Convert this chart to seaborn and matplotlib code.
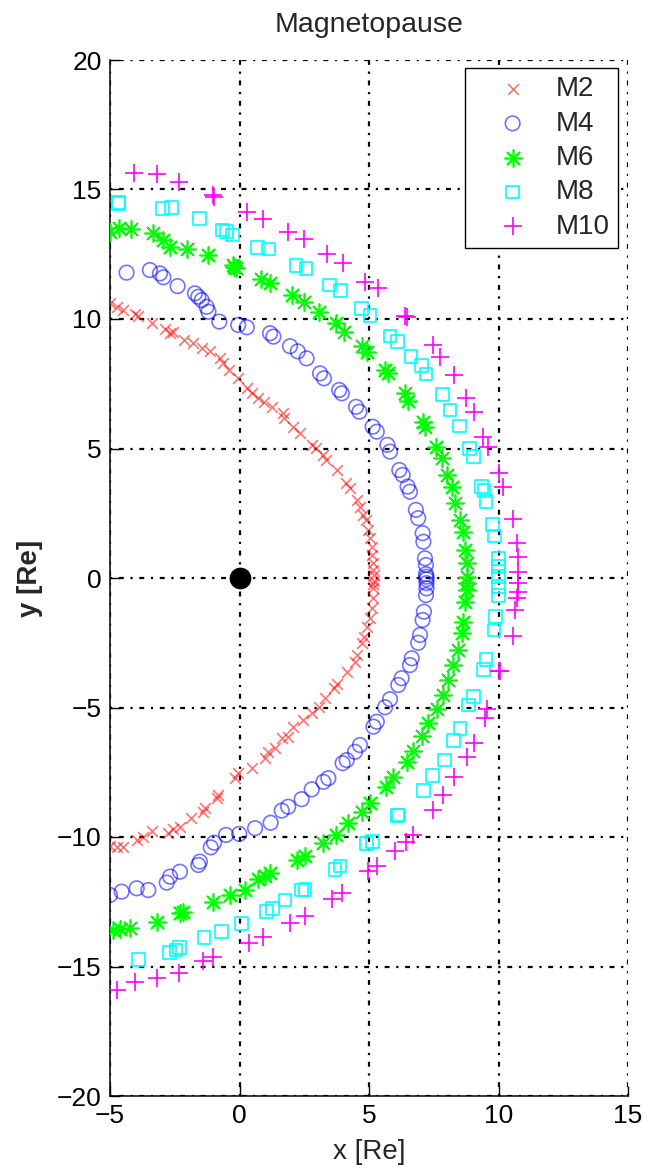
import matplotlib
matplotlib.use("Agg")
import matplotlib.pyplot as plt
import pandas as pd
import seaborn as sns

# Magnetopause boundary crossings (x, y) in Earth radii for each model run
M2 = [(-5.00, 10.61), (-4.74, 10.47), (-4.49, 10.35), (-4.03, 10.19), (-3.91, 10.12),
      (-3.39, 9.86), (-2.88, 9.60), (-2.68, 9.47), (-2.56, 9.51), (-2.13, 9.19),
      (-1.78, 9.08), (-1.46, 8.87), (-1.14, 8.78), (-0.75, 8.48), (-0.63, 8.29),
      (-0.41, 8.03), (-0.05, 7.71), (0.28, 7.32), (0.47, 7.13), (0.73, 6.94),
      (0.96, 6.81), (1.24, 6.61), (1.67, 6.36), (1.72, 6.17), (2.08, 5.84),
      (2.34, 5.59), (2.79, 5.14), (2.95, 5.01), (3.24, 4.75), (3.34, 4.56),
      (3.78, 4.17), (4.11, 3.66), (4.27, 3.46), (4.53, 3.01), (4.65, 2.75),
      (4.78, 2.43), (4.88, 2.24), (4.97, 1.85), (5.04, 1.53), (5.10, 1.21),
      (5.10, 0.89), (5.17, 0.57), (5.17, 0.30), (5.20, 0.10), (5.20, -0.10),
      (5.17, -0.22), (5.17, -0.40), (5.17, -0.78), (5.10, -1.17), (5.04, -1.56),
      (4.91, -1.88), (4.81, -2.27), (4.72, -2.52), (4.53, -2.97), (4.46, -3.25),
      (4.16, -3.62), (3.78, -4.10), (3.65, -4.26), (3.30, -4.62), (3.08, -4.97),
      (2.79, -5.22), (2.46, -5.48), (2.08, -5.74), (1.88, -6.13), (1.63, -6.19),
      (1.37, -6.58), (1.11, -6.70), (0.98, -6.94), (0.47, -7.35), (-0.05, -7.54),
      (-0.17, -7.73), (-0.82, -8.38), (-0.88, -8.51), (-1.33, -8.89), (-1.40, -9.02),
      (-1.87, -9.28), (-2.30, -9.63), (-2.56, -9.70), (-2.75, -9.83), (-3.39, -9.76),
      (-3.71, -9.99), (-3.97, -10.12), (-4.49, -10.37), (-4.74, -10.40), (-5.00, -10.35)]

M4 = [(-4.36, 11.79), (-3.46, 11.89), (-3.07, 11.76), (-2.94, 11.61), (-2.39, 11.27),
      (-1.72, 10.99), (-1.59, 10.86), (-1.46, 10.73), (-1.27, 10.47), (-1.20, 10.28),
      (-0.78, 9.90), (-0.05, 9.77), (0.28, 9.68), (1.18, 9.45), (1.31, 9.32),
      (1.95, 8.95), (2.25, 8.75), (2.59, 8.48), (3.11, 7.90), (3.26, 7.71),
      (3.85, 7.26), (3.95, 7.13), (4.50, 6.61), (4.63, 6.42), (5.14, 5.84),
      (5.30, 5.65), (5.71, 5.14), (5.81, 4.88), (6.17, 4.17), (6.30, 3.98),
      (6.49, 3.53), (6.58, 3.33), (6.81, 2.63), (6.90, 2.31), (7.07, 1.73),
      (7.10, 1.40), (7.16, 0.76), (7.20, 0.50), (7.20, 0.15), (7.22, 0.05),
      (7.22, -0.05), (7.22, -0.20), (7.22, -0.40), (7.20, -0.66), (7.12, -1.30),
      (7.07, -1.62), (6.97, -2.20), (6.90, -2.50), (6.65, -3.10), (6.58, -3.36),
      (6.26, -3.87), (6.13, -4.13), (5.81, -4.68), (5.62, -4.99), (5.30, -5.55),
      (5.17, -5.74), (4.65, -6.45), (4.46, -6.71), (4.14, -7.03), (3.98, -7.15),
      (3.43, -7.73), (3.24, -7.87), (2.79, -8.16), (2.40, -8.54), (1.88, -8.83),
      (1.63, -8.98), (1.20, -9.45), (0.60, -9.66), (-0.01, -9.88), (-0.52, -9.92),
      (-0.98, -10.22), (-1.11, -10.40), (-1.53, -10.95), (-1.59, -11.08), (-2.30, -11.34),
      (-2.68, -11.53), (-2.81, -11.76), (-3.52, -12.05), (-3.97, -11.98), (-4.55, -12.11),
      (-5.00, -12.24)]

M6 = [(-5.00, 13.35), (-4.64, 13.50), (-4.20, 13.46), (-3.35, 13.31), (-2.97, 13.05),
      (-2.68, 12.79), (-2.04, 12.69), (-1.20, 12.47), (-0.26, 12.08), (-0.14, 11.97),
      (-0.20, 12.02), (0.83, 11.53), (1.18, 11.40), (2.02, 10.93), (2.49, 10.67),
      (3.08, 10.28), (3.73, 9.86), (4.05, 9.51), (4.72, 8.96), (4.91, 8.74),
      (5.62, 8.03), (5.75, 7.90), (6.39, 7.13), (6.52, 6.85), (7.10, 6.03),
      (7.16, 5.84), (7.59, 5.07), (7.81, 4.62), (8.00, 3.98), (8.19, 3.53),
      (8.32, 2.88), (8.51, 2.24), (8.64, 1.79), (8.71, 1.08), (8.77, 0.57),
      (8.77, 0.05), (8.77, -0.20), (8.77, -0.46), (8.71, -0.92), (8.64, -1.69),
      (8.58, -2.14), (8.45, -2.78), (8.25, -3.36), (8.06, -3.94), (7.85, -4.52),
      (7.64, -5.07), (7.29, -5.61), (7.03, -6.10), (6.71, -6.67), (6.46, -7.09),
      (5.92, -7.69), (5.66, -8.06), (5.04, -8.70), (4.72, -9.02), (4.20, -9.47),
      (3.73, -9.92), (3.24, -10.24), (2.53, -10.73), (2.21, -10.89), (1.18, -11.40),
      (0.98, -11.51), (0.73, -11.63), (0.21, -12.05), (-0.37, -12.24), (-1.03, -12.50),
      (-2.17, -12.88), (-2.30, -12.95), (-3.17, -13.27), (-4.23, -13.53), (-4.61, -13.56),
      (-4.90, -13.59)]

M8 = [(-4.68, 14.49), (-4.66, 14.45), (-2.98, 14.27), (-2.64, 14.31), (-1.55, 13.89),
      (-0.65, 13.44), (-0.49, 13.37), (-0.26, 13.24), (0.70, 12.77), (1.11, 12.70),
      (2.18, 12.08), (2.57, 11.96), (3.49, 11.31), (3.91, 11.09), (4.72, 10.41),
      (5.04, 10.15), (5.81, 9.34), (6.09, 9.12), (6.62, 8.54), (7.03, 8.19),
      (7.20, 7.88), (7.85, 7.07), (8.13, 6.49), (8.49, 5.87), (8.87, 5.01),
      (9.03, 4.68), (9.35, 3.53), (9.44, 3.37), (9.52, 2.95), (9.78, 2.08),
      (9.84, 1.62), (9.99, 0.76), (9.99, 0.44), (9.99, 0.05), (9.99, -0.34),
      (9.99, -0.69), (9.89, -1.49), (9.83, -2.01), (9.52, -3.14), (9.41, -3.53),
      (9.03, -4.56), (8.83, -4.90), (8.51, -5.80), (8.25, -6.28), (7.90, -7.03),
      (7.46, -7.64), (7.10, -8.19), (6.13, -9.15), (6.10, -9.18), (5.14, -10.18),
      (4.91, -10.24), (3.88, -11.12), (3.69, -11.25), (2.53, -12.02), (2.40, -12.05),
      (1.76, -12.43), (1.28, -12.75), (1.05, -12.88), (0.07, -13.33), (-0.70, -13.66),
      (-1.37, -13.87), (-2.32, -14.26), (-2.45, -14.36), (-2.71, -14.47), (-3.91, -14.72)]

M10 = [(-4.06, 15.63), (-3.20, 15.59), (-2.32, 15.30), (-1.03, 14.79), (-1.00, 14.70),
       (0.28, 14.12), (0.90, 13.86), (1.88, 13.35), (2.49, 13.09), (3.37, 12.50),
       (3.98, 12.17), (4.85, 11.44), (5.34, 11.19), (6.39, 10.12), (6.45, 10.08),
       (7.46, 9.00), (7.74, 8.54), (8.29, 7.84), (8.73, 6.94), (9.05, 6.42),
       (9.41, 5.46), (9.61, 5.07), (10.02, 4.04), (10.19, 3.53), (10.55, 2.27),
       (10.70, 1.34), (10.76, 0.82), (10.76, 0.24), (10.76, -0.20), (10.76, -0.53),
       (10.70, -0.78), (10.64, -1.24), (10.57, -2.24), (10.06, -3.58), (10.02, -3.60),
       (9.54, -5.07), (9.48, -5.42), (9.05, -6.36), (8.80, -6.90), (8.29, -7.69),
       (7.87, -8.38), (7.46, -8.96), (6.69, -9.92), (6.43, -10.18), (6.00, -10.53),
       (5.32, -11.11), (4.97, -11.31), (3.95, -12.15), (3.56, -12.41), (2.53, -13.05),
       (1.95, -13.33), (0.90, -13.87), (0.38, -14.10), (-1.03, -14.62), (-1.40, -14.77),
       (-2.32, -15.26), (-3.17, -15.46), (-4.03, -15.59), (-4.72, -15.91)]

series_names = ["M2", "M4", "M6", "M8", "M10"]
series_points = [M2, M4, M6, M8, M10]
x_ticks = [-5, 0, 5, 10, 15]
y_ticks = [-20, -15, -10, -5, 0, 5, 10, 15, 20]

# name -> (marker, colour, area, alpha, hollow)
marker_styles = {
    "M2": ("x", "#ff0000", 60, 0.55, False),
    "M4": ("o", "#0000ff", 110, 0.55, True),
    "M6": ((8, 2, 0), "#00ff00", 150, 1.0, False),
    "M8": ("s", "#00ffff", 85, 1.0, True),
    "M10": ("+", "#ff00ff", 160, 1.0, False),
}

sns.set_style("white")
plt.rcParams["font.family"] = ["Liberation Sans", "DejaVu Sans"]

fig = plt.figure(figsize=(6.48, 11.7), dpi=100)
ax = fig.add_axes([110 / 648, 74 / 1170, 518 / 648, 1036 / 1170])

for name, pts in zip(series_names, series_points):
    df = pd.DataFrame(pts, columns=["x", "y"])
    marker, color, area, alpha, hollow = marker_styles[name]
    kws = dict(marker=marker, s=area, alpha=alpha, linewidth=1.2, label=name)
    if hollow:
        kws.update(color=color, facecolor="none", edgecolor=color)
    else:
        kws.update(color=color)
    sns.scatterplot(data=df, x="x", y="y", ax=ax, zorder=3, **kws)

# Earth at the origin
earth = pd.DataFrame({"x": [0.0], "y": [0.0]})
sns.scatterplot(data=earth, x="x", y="y", ax=ax, color="black", edgecolor="black",
                s=210, zorder=4)

ax.set_xlim(-5, 15)
ax.set_ylim(-20, 20)
ax.set_xticks(x_ticks)
ax.set_yticks(y_ticks)
ax.set_axisbelow(True)
ax.grid(True, color="black", linestyle=(0, (1.0, 3.0, 2.2, 3.0)), linewidth=1.6)

for side in ["top", "right"]:
    ax.spines[side].set_visible(False)
for side in ["left", "bottom"]:
    ax.spines[side].set_color("black")
    ax.spines[side].set_linewidth(1.1)

ax.tick_params(direction="in", length=7, width=1, labelsize=19, colors="black",
               pad=6, bottom=True, left=True, top=False, right=False)

ax.set_xlabel("x [Re]", fontsize=20, labelpad=8)
ax.set_ylabel("y [Re]", fontsize=20, labelpad=10, fontweight="bold")
ax.set_title("Magnetopause", fontsize=20.5, pad=20)

leg = ax.legend(loc="upper right", bbox_to_anchor=(618 / 648, 1 - 68 / 1170),
                bbox_transform=fig.transFigure, borderaxespad=0, fontsize=20,
                frameon=True, fancybox=False, framealpha=1, edgecolor="black",
                handlelength=2.8, handletextpad=0.15, labelspacing=0.3,
                borderpad=0.3, scatterpoints=1)
leg.get_frame().set_linewidth(1.0)

fig.savefig("out.png", dpi=100, facecolor="white")
